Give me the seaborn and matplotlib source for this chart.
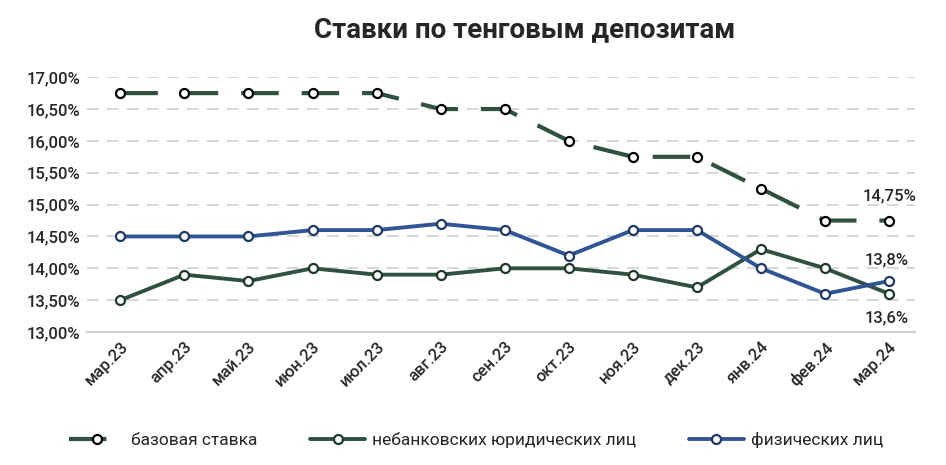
import pandas as pd
import matplotlib.pyplot as plt
import seaborn as sns

months = ["мар.23", "апр.23", "май.23", "июн.23", "июл.23", "авг.23", "сен.23",
          "окт.23", "ноя.23", "дек.23", "янв.24", "фев.24", "мар.24"]
base_rate = [16.75, 16.75, 16.75, 16.75, 16.75, 16.5, 16.5, 16.0, 15.75, 15.75, 15.25, 14.75, 14.75]
legal = [13.5, 13.9, 13.8, 14.0, 13.9, 13.9, 14.0, 14.0, 13.9, 13.7, 14.3, 14.0, 13.6]
physical = [14.5, 14.5, 14.5, 14.6, 14.6, 14.7, 14.6, 14.2, 14.6, 14.6, 14.0, 13.6, 13.8]
yticks = [13.0, 13.5, 14.0, 14.5, 15.0, 15.5, 16.0, 16.5, 17.0]

green = "#2e5140"
blue = "#2f5597"

df = pd.DataFrame({"x": range(len(months)), "base": base_rate,
                   "legal": legal, "phys": physical})

sns.set_style("white")
plt.rcParams["font.family"] = ["Roboto", "DejaVu Sans"]

fig = plt.figure(figsize=(9.46, 4.65), dpi=100)
ax = fig.add_axes([0.092, 0.286, 0.875, 0.548])

mk = dict(marker="o", markersize=6.5, markerfacecolor="white", markeredgewidth=1.6)
sns.lineplot(data=df, x="x", y="base", ax=ax, color=green, linewidth=3,
             dashes=False, label="базовая ставка", markeredgecolor="black", **mk)
ax.lines[-1].set_dashes([9, 5.5])
sns.lineplot(data=df, x="x", y="legal", ax=ax, color=green, linewidth=2.8,
             label="небанковских юридических лиц", markeredgecolor="#1f3a2c", **mk)
sns.lineplot(data=df, x="x", y="phys", ax=ax, color=blue, linewidth=2.8,
             label="физических лиц", markeredgecolor="#1f3a66", **mk)

ax.set_xlim(-0.52, 12.4)
ax.set_ylim(13, 17)
ax.set_yticks(yticks)
ax.set_yticklabels([f"{v:.2f}%".replace(".", ",") for v in yticks], fontsize=12, fontweight="medium")
ax.set_xticks(range(len(months)))
ax.set_xticklabels(months, rotation=45, ha="right", rotation_mode="anchor", fontsize=12,
                   fontweight="medium")
ax.tick_params(axis="both", length=0, pad=5)
ax.set_xlabel("")
ax.set_ylabel("")

for y in yticks[1:]:
    ax.axhline(y, color="#d0d0d0", linewidth=1.2, dashes=(7, 5), zorder=0)
for s in ["top", "right", "left"]:
    ax.spines[s].set_visible(False)
ax.spines["bottom"].set_color("#d0d0d0")
ax.spines["bottom"].set_linewidth(1.5)

ax.annotate("14,75%", (12, base_rate[-1]), xytext=(0, 12), textcoords="offset points",
            ha="center", va="bottom", fontsize=12, fontweight="medium")
ax.annotate("13,8%", (12, physical[-1]), xytext=(-2, 10), textcoords="offset points",
            ha="center", va="bottom", fontsize=12, fontweight="medium")
ax.annotate("13,6%", (12, legal[-1]), xytext=(-2, -12), textcoords="offset points",
            ha="center", va="top", fontsize=12, fontweight="medium")

fig.suptitle("Ставки по тенговым депозитам", x=0.555, y=0.965, fontsize=20, fontweight="bold")

ax.legend(loc="upper center", bbox_to_anchor=(0.47, -0.33), ncol=3, frameon=False,
          fontsize=12.5, handlelength=3.2, columnspacing=3, handletextpad=0.4)

fig.savefig("out.png", dpi=100)
